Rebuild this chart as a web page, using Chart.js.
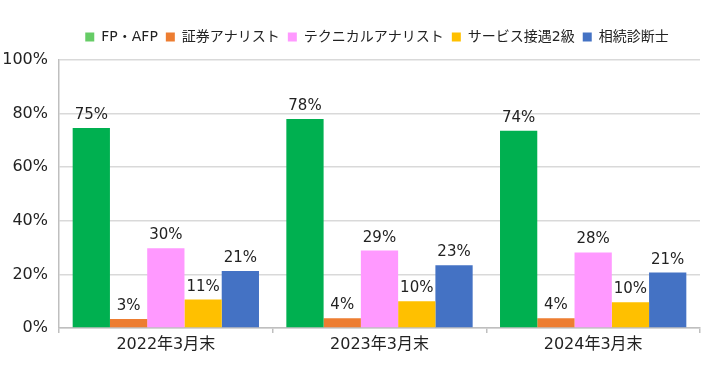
<!DOCTYPE html>
<html>
<head>
<meta charset="utf-8">
<script src="https://cdn.jsdelivr.net/npm/chart.js@4"></script>
<style>
  html, body { margin: 0; padding: 0; background: #fff; }
  #wrap { width: 724px; height: 374px; position: relative; }
</style>
</head>
<body>
<div id="wrap"><canvas id="chart"></canvas></div>
<script>
// --- データ ---
const categories = ['2022年3月末', '2023年3月末', '2024年3月末'];
const seriesNames = ['FP・AFP', '証券アナリスト', 'テクニカルアナリスト', 'サービス接遇2級', '相続診断士'];
const fpAfp      = [74.6, 78.0, 73.6];
const analyst    = [3.4, 3.6, 3.6];
const technical  = [29.8, 28.9, 28.2];
const service    = [10.6, 10.0, 9.6];
const souzoku    = [21.3, 23.4, 20.7];
const yTicks     = [0, 20, 40, 60, 80, 100];

// 色
const barColors    = ['#00B050', '#ED7D31', '#FF99FF', '#FFC000', '#4472C4'];
const swatchColors = ['#66CC66', '#ED7D31', '#FF99FF', '#FFC000', '#4472C4'];
const FONT = '"DejaVu Sans", "Noto Sans CJK JP", sans-serif';

const seriesData = [fpAfp, analyst, technical, service, souzoku];

// 棒の上に % を描く
const valueLabels = {
  id: 'valueLabels',
  afterDatasetsDraw(chart) {
    const ctx = chart.ctx;
    ctx.save();
    ctx.font = '15px ' + FONT;
    ctx.fillStyle = '#222';
    ctx.textAlign = 'center';
    ctx.textBaseline = 'alphabetic';
    chart.data.datasets.forEach((ds, i) => {
      chart.getDatasetMeta(i).data.forEach((bar, j) => {
        ctx.fillText(Math.round(ds.data[j]) + '%', bar.x, bar.y - 9);
      });
    });
    ctx.restore();
  }
};

// 凡例の高さを固定、少し右へ寄せる
const legendTweak = {
  id: 'legendTweak',
  beforeInit(chart) {
    const lg = chart.legend;
    const fit = lg.fit;
    lg.fit = function () {
      fit.call(this);
      this.height = 38;
    };
    const draw = lg.draw;
    lg.draw = function () {
      const ctx = this.ctx;
      ctx.save();
      ctx.translate(27, 0);
      draw.apply(this, arguments);
      ctx.restore();
    };
  }
};

new Chart(document.getElementById('chart'), {
  type: 'bar',
  data: {
    labels: categories,
    datasets: seriesNames.map((name, i) => ({
      label: name,
      data: seriesData[i],
      backgroundColor: barColors[i],
      borderWidth: 0,
      categoryPercentage: 0.872,
      barPercentage: 1.0
    }))
  },
  options: {
    responsive: true,
    maintainAspectRatio: false,
    animation: false,
    layout: { padding: { top: 22, right: 24, bottom: 0, left: 0 } },
    plugins: {
      legend: {
        position: 'top',
        labels: {
          boxWidth: 9,
          boxHeight: 9,
          padding: 8,
          color: '#222',
          font: { family: FONT, size: 14 },
          generateLabels(chart) {
            const items = Chart.defaults.plugins.legend.labels.generateLabels(chart);
            items.forEach((it, i) => {
              it.fillStyle = swatchColors[i];
              it.strokeStyle = swatchColors[i];
              it.lineWidth = 0;
            });
            return items;
          }
        }
      },
      tooltip: { enabled: false }
    },
    scales: {
      x: {
        grid: {
          display: true,
          drawOnChartArea: false,
          drawTicks: true,
          tickLength: 5,
          color: '#BFBFBF',
          lineWidth: 1.5
        },
        border: { color: '#BFBFBF', width: 1.5 },
        ticks: { color: '#222', padding: 2, font: { family: FONT, size: 16 } },
        afterFit(scale) { scale.height = 46; }
      },
      y: {
        min: 0,
        max: 100,
        afterBuildTicks(scale) { scale.ticks = yTicks.map(v => ({ value: v })); },
        grid: { color: '#D9D9D9', lineWidth: 1.5, drawTicks: false },
        border: { color: '#BFBFBF', width: 1.5 },
        ticks: {
          color: '#222',
          padding: 11,
          font: { family: FONT, size: 16 },
          callback: v => v + '%'
        },
        afterFit(scale) { scale.width = 59; }
      }
    }
  },
  plugins: [valueLabels, legendTweak]
});
</script>
</body>
</html>
